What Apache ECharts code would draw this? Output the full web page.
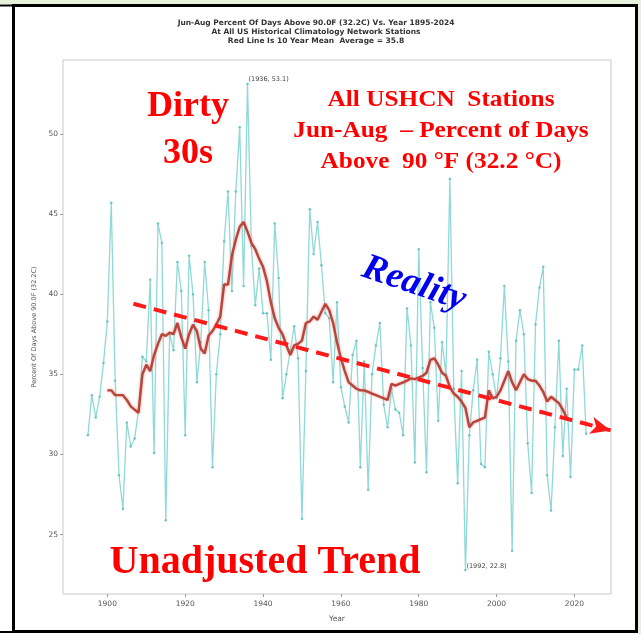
<!DOCTYPE html>
<html>
<head>
<meta charset="utf-8">
<script src="https://cdn.jsdelivr.net/npm/echarts@6/dist/echarts.min.js"></script>
<style>
  html, body { margin: 0; padding: 0; background: #ffffff; }
  #chart { width: 641px; height: 634px; }
</style>
</head>
<body>
<div id="chart"></div>
<script>
// ------------------------------
// data
// ------------------------------
var years = [];
for (var y = 1895; y <= 2023; y++) years.push(y);

var pctDays = [
  31.2, 33.7, 32.3, 33.6, 35.7, 38.3, 45.7, 34.6, 28.7, 26.6,   // 1895-1904
  32.0, 30.5, 31.0, 32.7, 36.1, 35.8, 40.9, 30.1, 44.4, 43.2,   // 1905-1914
  25.9, 37.5, 36.5, 42.0, 40.2, 31.2, 42.4, 40.0, 34.5, 37.0,   // 1915-1924
  42.0, 39.0, 29.2, 35.0, 37.5, 43.3, 46.4, 40.2, 46.4, 50.4,   // 1925-1934
  40.5, 53.1, 43.0, 39.3, 41.6, 38.8, 38.8, 35.9, 44.4, 41.0,   // 1935-1944
  33.5, 35.0, 36.5, 38.0, 36.0, 26.0, 35.2, 45.3, 42.5, 44.5,   // 1945-1954
  41.8, 38.8, 38.5, 34.5, 39.5, 34.2, 33.0, 32.0, 36.2, 37.1,   // 1955-1964
  29.2, 35.8, 27.8, 35.0, 36.8, 38.2, 33.1, 31.7, 34.1, 32.8,   // 1965-1974
  32.6, 31.2, 39.1, 36.8, 29.5, 42.8, 35.4, 28.9, 39.5, 37.9,   // 1975-1984
  32.1, 37.0, 35.0, 47.2, 34.1, 28.2, 35.2, 22.8, 31.2, 34.0,   // 1985-1994
  35.9, 29.4, 29.2, 36.4, 35.0, 33.5, 36.0, 40.5, 35.8, 24.0,   // 1995-2004
  37.1, 39.0, 37.5, 30.7, 27.6, 38.1, 40.4, 41.7, 28.7, 26.5,   // 2005-2014
  31.7, 37.1, 29.9, 34.1, 28.6, 35.3, 35.3, 36.8, 31.3          // 2015-2023
];

// 10 year mean (red line), 1900-2018
var meanYears = [];
for (var m = 1900; m <= 2018; m++) meanYears.push(m);

var tenYearMean = [
  34.0, 34.0, 33.7, 33.7, 33.7, 33.4, 33.0, 32.8, 32.6, 35.0,   // 1900-1909
  35.6, 35.2, 36.2, 36.9, 37.5, 37.4, 37.6, 37.5, 38.2, 37.3,   // 1910-1919
  36.6, 37.5, 38.1, 37.7, 36.6, 36.3, 37.4, 37.7, 38.1, 38.6,   // 1920-1929
  40.6, 40.6, 42.4, 43.4, 44.2, 44.5, 43.9, 43.2, 42.8, 42.2,   // 1930-1939
  41.7, 40.8, 39.5, 38.5, 37.9, 37.5, 36.8, 36.2, 36.8, 36.9,   // 1940-1949
  37.1, 38.2, 38.3, 38.6, 38.4, 38.9, 39.4, 39.0, 38.2, 37.0,   // 1950-1959
  36.0, 35.2, 34.5, 34.3, 34.1, 34.0, 34.0, 33.9, 33.8, 33.7,   // 1960-1969
  33.6, 33.5, 33.4, 34.4, 34.3, 34.4, 34.5, 34.6, 34.75, 34.7,  // 1970-1979
  34.8, 34.9, 35.1, 35.9, 36.0, 35.6, 35.1, 34.9, 34.2, 33.8,   // 1980-1989
  33.6, 33.3, 32.9, 31.7, 32.0, 32.1, 32.2, 32.3, 34.0, 33.5,   // 1990-1999
  33.6, 34.0, 34.6, 35.2, 34.5, 34.0, 34.5, 35.0, 34.7, 34.6,   // 2000-2009
  34.6, 34.3, 33.9, 33.3, 33.6, 33.4, 33.2, 32.8, 32.3          // 2010-2018
];

var xTicks = [1900, 1920, 1940, 1960, 1980, 2000, 2020];
var yTicks = [25, 30, 35, 40, 45, 50];

// trend arrow drawn over the chart (start / end in data units)
var trendStart = [1906.7, 39.4];
var trendEnd = [2029.3, 31.5];

var titleLines = [
  'Jun-Aug Percent Of Days Above 90.0F (32.2C) Vs. Year 1895-2024',
  'At All US Historical Climatology Network Stations',
  'Red Line Is 10 Year Mean  Average = 35.8'
];

// ------------------------------
// build the pairs
// ------------------------------
var cyanData = years.map(function (yr, i) { return [yr, pctDays[i]]; });
var redData = meanYears.map(function (yr, i) { return [yr, tenYearMean[i]]; });

var smallFont = 'DejaVu Sans, sans-serif';
var serif = '"Liberation Serif", "Times New Roman", serif';

var myChart = echarts.init(document.getElementById('chart'), null, { renderer: 'canvas' });

function note(x, y, text, font, color, extra) {
  var el = {
    type: 'text', x: x, y: y, z: 50,
    style: { text: text, font: font, fill: color, align: 'center', verticalAlign: 'middle' }
  };
  if (extra) for (var k in extra) el[k] = extra[k];
  return el;
}

var option = {
  backgroundColor: '#ffffff',
  animation: false,
  grid: {
    left: 63,
    right: 30,
    top: 60,
    bottom: 40,
    show: true,
    backgroundColor: '#ffffff',
    borderColor: '#c8c8c8',
    borderWidth: 1
  },
  xAxis: {
    type: 'value',
    min: 1888.6,
    max: 2029.4,
    name: 'Year',
    nameLocation: 'middle',
    nameGap: 21,
    nameTextStyle: { fontFamily: smallFont, fontSize: 7.5, color: '#555' },
    axisLine: { show: false },
    splitLine: { show: false },
    axisTick: { show: true, length: 3, customValues: xTicks, lineStyle: { color: '#999' } },
    axisLabel: {
      customValues: xTicks,
      fontFamily: smallFont, fontSize: 7.5, color: '#555', margin: 6,
      formatter: function (v) { return String(v); }
    }
  },
  yAxis: {
    type: 'value',
    min: 21.3,
    max: 54.6,
    name: 'Percent Of Days Above 90.0F (32.2C)',
    nameLocation: 'middle',
    nameGap: 23,
    nameRotate: 90,
    nameTextStyle: { fontFamily: smallFont, fontSize: 6.5, color: '#555' },
    axisLine: { show: false },
    splitLine: { show: false },
    axisTick: { show: true, length: 3, customValues: yTicks, lineStyle: { color: '#999' } },
    axisLabel: {
      customValues: yTicks,
      fontFamily: smallFont, fontSize: 7.5, color: '#555', margin: 5
    }
  },
  series: [
    {
      name: 'Percent',
      type: 'line',
      data: cyanData,
      clip: false,
      symbol: 'circle',
      symbolSize: 2.5,
      itemStyle: { color: '#6cc4c4' },
      lineStyle: { color: '#8fd9d7', width: 1.3 },
      z: 2,
      markPoint: {
        silent: true,
        symbolSize: 0,
        data: [
          { coord: [1936, 53.1], label: { show: true, formatter: '(1936, 53.1)', position: [1, -8] } },
          { coord: [1992, 22.8], label: { show: true, formatter: '(1992, 22.8)', position: [1, -7] } }
        ],
        label: { fontFamily: smallFont, fontSize: 6.5, color: '#444', align: 'left', verticalAlign: 'top' }
      },
      markLine: {
        silent: true,
        symbol: ['none', 'arrow'],
        symbolSize: [13, 20],
        label: { show: false },
        lineStyle: { color: '#ff1a1a', width: 4, type: [13, 8], opacity: 1 },
        emphasis: { disabled: true },
        data: [[{ coord: trendStart }, { coord: trendEnd }]]
      }
    },
    {
      name: '10 Year Mean',
      type: 'line',
      data: redData,
      symbol: 'none',
      lineStyle: {
        color: '#b8453b', width: 2.4,
        shadowColor: 'rgba(240,120,110,0.7)', shadowBlur: 3
      },
      z: 3
    }
  ],
  graphic: [
    // outer frame
    { type: 'rect', shape: { x: 0, y: 0, width: 641, height: 4 }, style: { fill: '#e9f0dc' }, z: 100 },
    { type: 'rect', shape: { x: 638, y: 0, width: 3, height: 634 }, style: { fill: '#e9f0dc' }, z: 100 },
    { type: 'rect', shape: { x: 13.5, y: 5.5, width: 623, height: 626 },
      style: { fill: 'none', stroke: '#000', lineWidth: 3 }, z: 100 },
    { type: 'line', shape: { x1: 0, y1: 5.5, x2: 13, y2: 5.5 }, style: { stroke: '#000', lineWidth: 2 }, z: 100 },
    { type: 'line', shape: { x1: 0, y1: 632, x2: 13, y2: 632 }, style: { stroke: '#000', lineWidth: 2 }, z: 100 },

    // matplotlib title
    note(316, 23, titleLines[0], 'bold 7.5px ' + smallFont, '#333'),
    note(316, 32, titleLines[1], 'bold 7.5px ' + smallFont, '#333'),
    note(316, 41, titleLines[2], 'bold 7.5px ' + smallFont, '#333'),

    // overlay notes
    note(188, 107, 'Dirty', 'bold 36px ' + serif, '#ff0000'),
    note(188, 154, '30s', 'bold 36px ' + serif, '#ff0000'),
    note(441, 100, 'All USHCN  Stations', 'bold 23px ' + serif, '#ff0000', { scaleX: 1.1 }),
    note(441, 131, 'Jun-Aug  \u2013 Percent of Days', 'bold 23px ' + serif, '#ff0000', { scaleX: 1.1 }),
    note(441, 162, 'Above  90 \u00b0F (32.2 \u00b0C)', 'bold 23px ' + serif, '#ff0000', { scaleX: 1.1 }),
    note(414, 284, 'Reality', 'italic bold 37px ' + serif, '#0000ee', { rotation: -0.33 }),
    note(265, 563, 'Unadjusted Trend', 'bold 40px ' + serif, '#ff0000')
  ]
};

myChart.setOption(option);
</script>
</body>
</html>
